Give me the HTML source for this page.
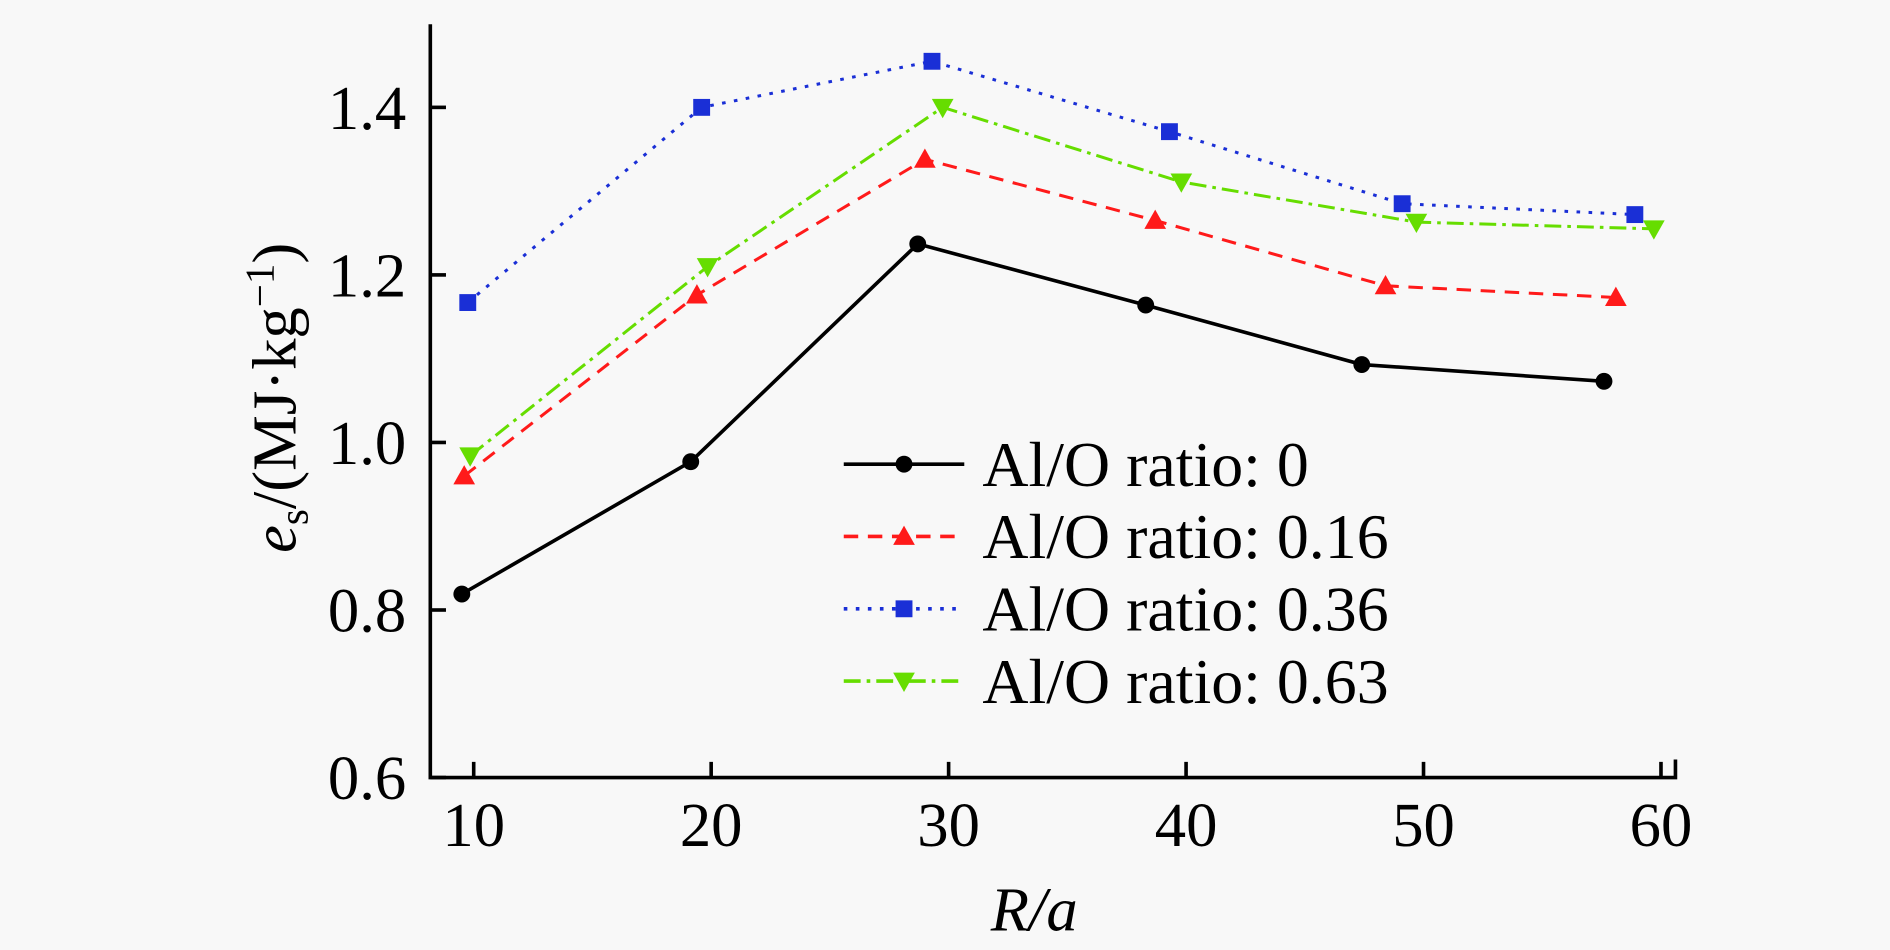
<!DOCTYPE html>
<html><head><meta charset="utf-8"><style>
html,body{margin:0;padding:0;background:#f8f8f8;}
svg{display:block;font-family:"Liberation Serif",serif;}
</style></head><body>
<svg id="chart" width="1890" height="950" viewBox="0 0 1568 788" xmlns="http://www.w3.org/2000/svg">
<rect x="0" y="0" width="1568" height="788" fill="#f8f8f8"/>
<g id="axes"></g>
<g id="series"></g>
<g id="legend"></g>
<text transform="translate(245,330) rotate(-90)" text-anchor="middle" font-size="52"><tspan font-style="italic">e</tspan><tspan font-size="34" dy="10">s</tspan><tspan dy="-10">/(MJ·kg</tspan><tspan font-size="34" dy="-18">−1</tspan><tspan dy="18">)</tspan></text>
<text x="858" y="772" text-anchor="middle" font-size="52" font-style="italic">R/a</text>
</svg>
<script>
const xTicks = [10,20,30,40,50,60];
const yTicks = [0.6,0.8,1.0,1.2,1.4];
const yTickLabels = ["0.6","0.8","1.0","1.2","1.4"];
const seriesNames = ["Al/O ratio: 0","Al/O ratio: 0.16","Al/O ratio: 0.36","Al/O ratio: 0.63"];
const xBlack = [9.5,19.14,28.7,38.3,47.4,57.6];
const yBlack = [0.819,0.977,1.237,1.164,1.093,1.073];
const xRed = [9.6,19.4,29.0,38.7,48.4,58.1];
const yRed = [0.96,1.176,1.338,1.265,1.187,1.173];
const xBlue = [9.75,19.6,29.3,39.3,49.1,58.9];
const yBlue = [1.167,1.4,1.455,1.371,1.285,1.272];
const xGreen = [9.85,19.85,29.75,39.8,49.7,59.7];
const yGreen = [0.984,1.21,1.4,1.311,1.263,1.255];

const NS="http://www.w3.org/2000/svg";
const X0=357,Y0=645,YT=20,XR=1390;
function sx(v){return 393+(v-10)*19.7;}
function sy(v){return 645-(v-0.6)*695;}
function mk(tag,attrs,parent){const e=document.createElementNS(NS,tag);for(const k in attrs)e.setAttribute(k,attrs[k]);parent.appendChild(e);return e;}
const axes=document.getElementById('axes');
let a=mk('path',{d:`M${X0},${YT}V${Y0}H${XR}V${Y0-15}`,fill:'none',stroke:'#000','stroke-width':3},axes);


xTicks.forEach(t=>{
  const l=mk('line',{x1:sx(t),x2:sx(t),y1:Y0,y2:Y0-13,stroke:'#000','stroke-width':3},axes);
  
  
  const tx=mk('text',{x:sx(t),y:Y0+57,'text-anchor':'middle','font-size':52},axes);
  
  
  tx.textContent=t;
});
yTicks.forEach((t,i)=>{
  const l=mk('line',{x1:X0,x2:X0+13,y1:sy(t),y2:sy(t),stroke:'#000','stroke-width':3},axes);
  
  
  const tx=mk('text',{x:X0-20,y:sy(t)+18,'text-anchor':'end','font-size':52},axes);
  
  
  tx.textContent=yTickLabels[i];
});
const styles=[
 {c:'#000',dash:'',m:'circle'},
 {c:'#ff1a1a',dash:'12,8',m:'tri'},
 {c:'#1a2fd6',dash:'3,7',m:'square'},
 {c:'#66dd00',dash:'14,5,3,5',m:'tridown'}];
const data=[[xBlack,yBlack],[xRed,yRed],[xBlue,yBlue],[xGreen,yGreen]];
function marker(type,x,y,c,g){
  let e;
  if(type==='circle')e=mk('circle',{cx:x,cy:y,r:7,fill:c},g);
  else if(type==='square')e=mk('rect',{x:x-7,y:y-7,width:14,height:14,fill:c},g);
  else if(type==='tri')e=mk('polygon',{points:`${x},${y-9} ${x-9},${y+7} ${x+9},${y+7}`,fill:c},g);
  else e=mk('polygon',{points:`${x},${y+9} ${x-9},${y-7} ${x+9},${y-7}`,fill:c},g);
  
  
}
const sg=document.getElementById('series');
data.forEach((d,i)=>{
  const s=styles[i];
  const g=mk('g',{},sg);
  
  
  const pts=d[0].map((x,j)=>sx(x)+','+sy(d[1][j])).join(' ');
  const pl=mk('polyline',{points:pts,fill:'none',stroke:s.c,'stroke-width':i===0?3:2.5,'stroke-dasharray':s.dash},g);
  
  
  d[0].forEach((x,j)=>marker(s.m,sx(x),sy(d[1][j]),s.c,g));
});
const lg=document.getElementById('legend');
seriesNames.forEach((n,i)=>{
  const s=styles[i];const y=385+i*60;
  const g=mk('g',{},lg);
  
  
  mk('line',{x1:700,x2:800,y1:y,y2:y,stroke:s.c,'stroke-width':3,'stroke-dasharray':s.dash},g);
  marker(s.m,750,y,s.c,g);
  const t=mk('text',{x:815,y:y+18,'font-size':53},g);
  
  
  t.textContent=n;
});
</script>
</body></html>
